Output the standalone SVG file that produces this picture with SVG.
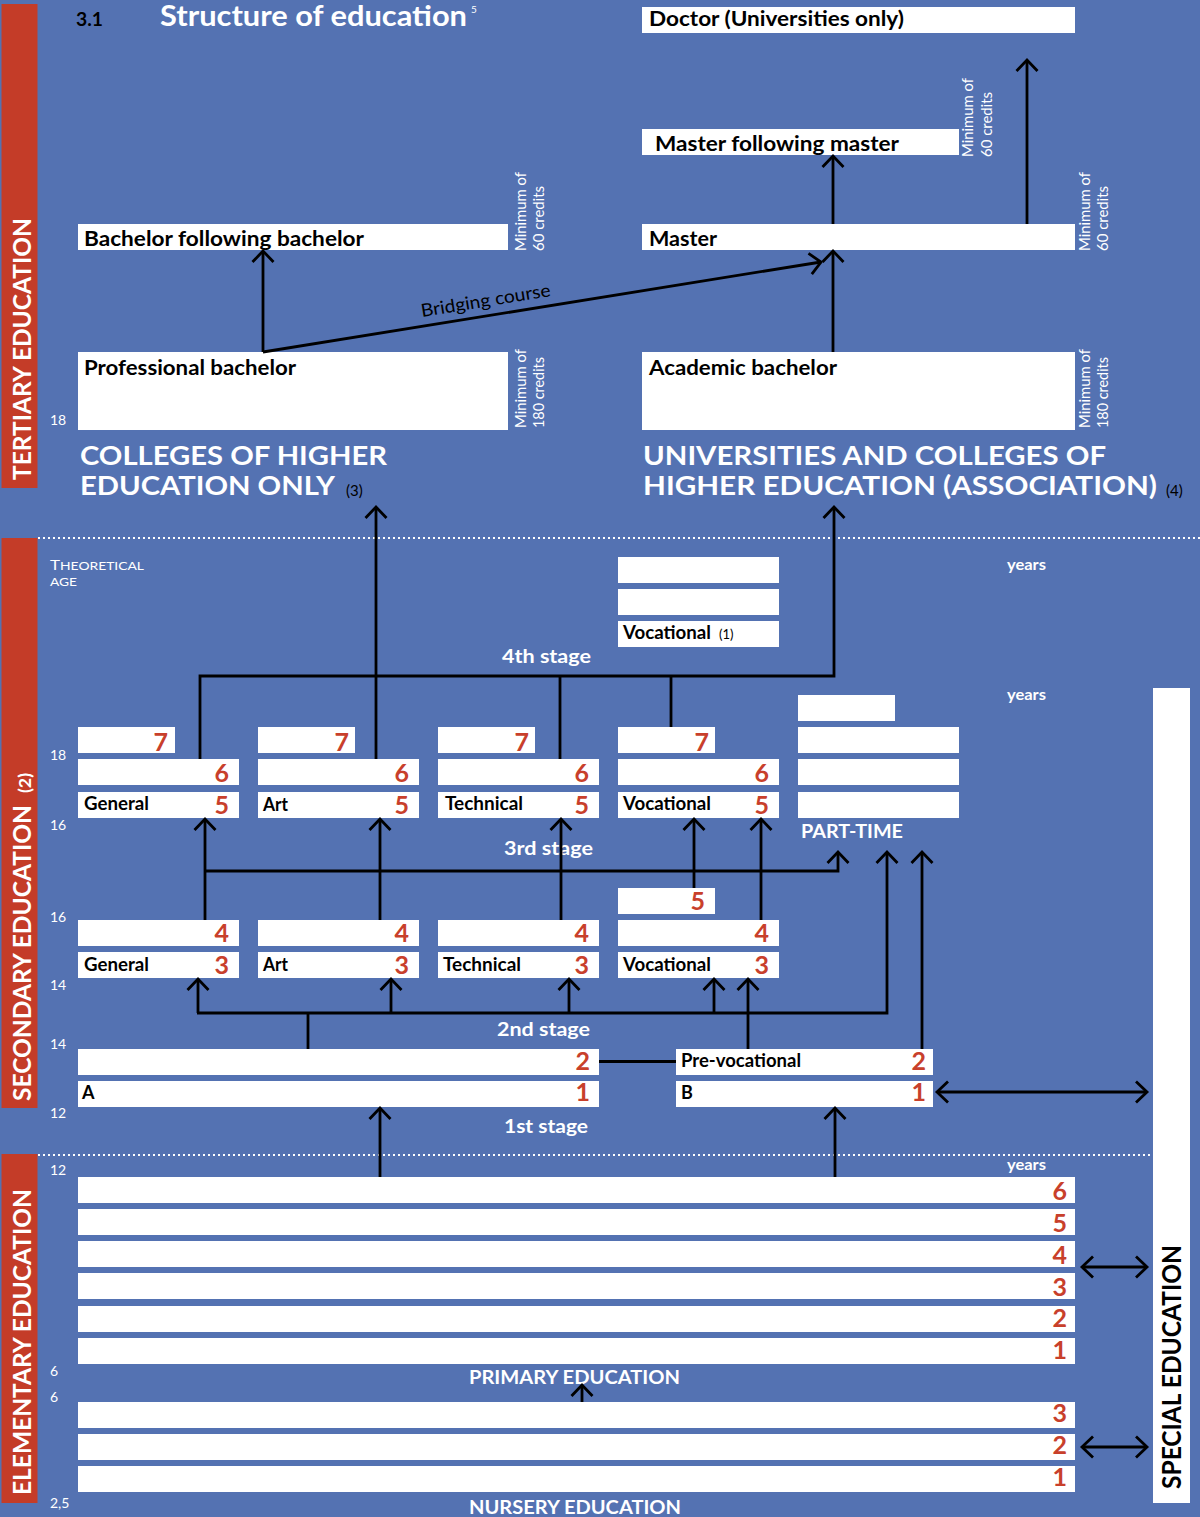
<svg xmlns="http://www.w3.org/2000/svg" width="1200" height="1517" viewBox="0 0 1200 1517">
<defs>
<style>
text{font-family:Lato,"Open Sans","Liberation Sans",sans-serif}
.box{fill:#fff}
.red{fill:#c43c28}
.lbl{font-size:18px;font-weight:700;fill:#000}
.big{font-size:21px;font-weight:700;fill:#000}
.num{font-size:25px;font-weight:700;fill:#c8402b;text-anchor:end}
.age{font-size:14px;fill:#fff}
.min{font-size:14.5px;fill:#fff}
.stage{font-size:19px;font-weight:700;fill:#fff}
.head{font-size:26px;font-weight:700;fill:#fff}
.side{font-size:25px;font-weight:700;fill:#fff}
.yrs{font-size:16px;font-weight:700;fill:#fff}
.ln{fill:none;stroke:#000;stroke-width:2.8;stroke-linejoin:miter}
.ar{marker-end:url(#ah)}
.da{marker-start:url(#ah);marker-end:url(#ah)}
.dot{fill:none;stroke:#fff;stroke-width:2;stroke-dasharray:2 3}
</style>
<marker id="ah" viewBox="-14 -14 28 28" refX="0" refY="0" markerWidth="28" markerHeight="28" markerUnits="userSpaceOnUse" orient="auto-start-reverse">
<path d="M-11,-10.5 L0,0 L-11,10.5" fill="none" stroke="#000" stroke-width="2.8"/>
</marker>
</defs>
<rect x="0" y="0" width="1200" height="1517" fill="#5472b2"/>

<g id="side-bars">
<rect class="red" x="1.5" y="4" width="36" height="484"/>
<rect class="red" x="1.5" y="538" width="36" height="570"/>
<rect class="red" x="1.5" y="1154" width="36" height="349"/>
<text class="side" transform="translate(31,480) rotate(-90)" textLength="262" lengthAdjust="spacingAndGlyphs">TERTIARY EDUCATION</text>
<text class="side" transform="translate(31,1101) rotate(-90)" textLength="296" lengthAdjust="spacingAndGlyphs">SECONDARY EDUCATION</text>
<text class="side" style="font-size:17px" transform="translate(31,793) rotate(-90)" textLength="20" lengthAdjust="spacingAndGlyphs">(2)</text>
<text class="side" transform="translate(31,1495) rotate(-90)" textLength="306" lengthAdjust="spacingAndGlyphs">ELEMENTARY EDUCATION</text>
</g>

<g id="dividers">
<line class="dot" x1="38" y1="538" x2="1200" y2="538"/>
<line class="dot" x1="38" y1="1155" x2="1152" y2="1155"/>
</g>

<g id="title">
<text x="76" y="26" style="font-size:19px;font-weight:700;fill:#000" textLength="27" lengthAdjust="spacingAndGlyphs">3.1</text>
<text x="160" y="26" style="font-size:29px;font-weight:700;fill:#fff" textLength="307" lengthAdjust="spacingAndGlyphs">Structure of education</text>
<text x="471" y="13" style="font-size:10px;fill:#fff">5</text>
</g>

<g id="doctor"><rect class="box" x="642" y="7" width="433" height="26"/><text class="big" x="649" y="26" textLength="255" lengthAdjust="spacingAndGlyphs">Doctor (Universities only)</text></g>
<g id="master-following-master"><rect class="box" x="642" y="129" width="317" height="26"/><text class="big" x="655" y="151" textLength="244" lengthAdjust="spacingAndGlyphs">Master following master</text>
<text class="min" transform="translate(973,157) rotate(-90)" textLength="79" lengthAdjust="spacingAndGlyphs">Minimum of</text>
<text class="min" transform="translate(992,157) rotate(-90)" textLength="65" lengthAdjust="spacingAndGlyphs">60 credits</text></g>
<g id="master"><rect class="box" x="642" y="224" width="433" height="26"/><text class="big" x="649" y="246" textLength="68" lengthAdjust="spacingAndGlyphs">Master</text>
<text class="min" transform="translate(1090,251) rotate(-90)" textLength="79" lengthAdjust="spacingAndGlyphs">Minimum of</text>
<text class="min" transform="translate(1108,251) rotate(-90)" textLength="65" lengthAdjust="spacingAndGlyphs">60 credits</text></g>
<g id="bachelor-following-bachelor"><rect class="box" x="78" y="224" width="430" height="26"/><text class="big" x="84" y="246" textLength="280" lengthAdjust="spacingAndGlyphs">Bachelor following bachelor</text>
<text class="min" transform="translate(526,251) rotate(-90)" textLength="79" lengthAdjust="spacingAndGlyphs">Minimum of</text>
<text class="min" transform="translate(544,251) rotate(-90)" textLength="65" lengthAdjust="spacingAndGlyphs">60 credits</text></g>
<g id="professional-bachelor"><rect class="box" x="78" y="352" width="430" height="78"/><text class="big" x="84" y="375" textLength="212" lengthAdjust="spacingAndGlyphs">Professional bachelor</text>
<text class="min" transform="translate(526,428) rotate(-90)" textLength="79" lengthAdjust="spacingAndGlyphs">Minimum of</text>
<text class="min" transform="translate(544,428) rotate(-90)" textLength="71" lengthAdjust="spacingAndGlyphs">180 credits</text></g>
<g id="academic-bachelor"><rect class="box" x="642" y="352" width="433" height="78"/><text class="big" x="649" y="375" textLength="188" lengthAdjust="spacingAndGlyphs">Academic bachelor</text>
<text class="min" transform="translate(1090,428) rotate(-90)" textLength="79" lengthAdjust="spacingAndGlyphs">Minimum of</text>
<text class="min" transform="translate(1108,428) rotate(-90)" textLength="71" lengthAdjust="spacingAndGlyphs">180 credits</text></g>

<g id="colleges-heading">
<text class="head" x="80" y="465" textLength="307" lengthAdjust="spacingAndGlyphs">COLLEGES OF HIGHER</text>
<text class="head" x="80" y="495" textLength="255" lengthAdjust="spacingAndGlyphs">EDUCATION ONLY</text>
<text x="346" y="496" style="font-size:15px;fill:#000">(3)</text>
</g>
<g id="universities-heading">
<text class="head" x="643" y="465" textLength="463" lengthAdjust="spacingAndGlyphs">UNIVERSITIES AND COLLEGES OF</text>
<text class="head" x="643" y="495" textLength="514" lengthAdjust="spacingAndGlyphs">HIGHER EDUCATION (ASSOCIATION)</text>
<text x="1166" y="496" style="font-size:15px;fill:#000">(4)</text>
</g>

<g id="ages">
<text class="age" x="50" y="425">18</text>
<text x="50" y="570" style="font-size:13.5px;fill:#fff" textLength="94" lengthAdjust="spacingAndGlyphs">T<tspan style="font-size:11px">HEORETICAL</tspan></text>
<text x="50" y="586" style="font-size:11px;fill:#fff" textLength="27" lengthAdjust="spacingAndGlyphs">AGE</text>
<text class="age" x="50" y="760">18</text>
<text class="age" x="50" y="830">16</text>
<text class="age" x="50" y="922">16</text>
<text class="age" x="50" y="990">14</text>
<text class="age" x="50" y="1049">14</text>
<text class="age" x="50" y="1118">12</text>
<text class="age" x="50" y="1175">12</text>
<text class="age" x="50" y="1376">6</text>
<text class="age" x="50" y="1402">6</text>
<text class="age" x="50" y="1508">2,5</text>
<text class="yrs" x="1007" y="570" textLength="39" lengthAdjust="spacingAndGlyphs">years</text>
<text class="yrs" x="1007" y="700" textLength="39" lengthAdjust="spacingAndGlyphs">years</text>
<text class="yrs" x="1007" y="1170" textLength="39" lengthAdjust="spacingAndGlyphs">years</text>
</g>

<g id="stage-labels">
<text class="stage" x="502" y="663" textLength="89" lengthAdjust="spacingAndGlyphs">4th stage</text>
<text class="stage" x="504" y="855" textLength="89" lengthAdjust="spacingAndGlyphs">3rd stage</text>
<text class="stage" x="497" y="1036" textLength="93" lengthAdjust="spacingAndGlyphs">2nd stage</text>
<text class="stage" x="504" y="1133" textLength="84" lengthAdjust="spacingAndGlyphs">1st stage</text>
<text class="stage" x="801" y="838" textLength="102" lengthAdjust="spacingAndGlyphs">PART-TIME</text>
<text class="stage" x="469" y="1384" textLength="211" lengthAdjust="spacingAndGlyphs">PRIMARY EDUCATION</text>
<text class="stage" x="469" y="1514" textLength="212" lengthAdjust="spacingAndGlyphs">NURSERY EDUCATION</text>
</g>

<g id="vocational-4th">
<rect class="box" x="618" y="557" width="161" height="26"/>
<rect class="box" x="618" y="589" width="161" height="26"/>
<rect class="box" x="618" y="621" width="161" height="26"/>
<text class="lbl" x="623" y="639" textLength="88" lengthAdjust="spacingAndGlyphs">Vocational</text>
<text x="719" y="639" style="font-size:13px;fill:#000">(1)</text>
</g>

<g id="general-3rd">
<rect class="box" x="78" y="727" width="97" height="26"/>
<rect class="box" x="78" y="759" width="161" height="26"/>
<rect class="box" x="78" y="792" width="161" height="26"/>
<text class="num" x="168" y="751">7</text><text class="num" x="229" y="782">6</text><text class="num" x="229" y="814">5</text>
<text class="lbl" x="84" y="810" textLength="65" lengthAdjust="spacingAndGlyphs">General</text>
</g>
<g id="art-3rd">
<rect class="box" x="258" y="727" width="97" height="26"/>
<rect class="box" x="258" y="759" width="161" height="26"/>
<rect class="box" x="258" y="792" width="161" height="26"/>
<text class="num" x="349" y="751">7</text><text class="num" x="409" y="782">6</text><text class="num" x="409" y="814">5</text>
<text class="lbl" x="263" y="811" textLength="25" lengthAdjust="spacingAndGlyphs">Art</text>
</g>
<g id="technical-3rd">
<rect class="box" x="438" y="727" width="97" height="26"/>
<rect class="box" x="438" y="759" width="161" height="26"/>
<rect class="box" x="438" y="792" width="161" height="26"/>
<text class="num" x="529" y="751">7</text><text class="num" x="589" y="782">6</text><text class="num" x="589" y="814">5</text>
<text class="lbl" x="445" y="810" textLength="78" lengthAdjust="spacingAndGlyphs">Technical</text>
</g>
<g id="vocational-3rd">
<rect class="box" x="618" y="727" width="97" height="26"/>
<rect class="box" x="618" y="759" width="161" height="26"/>
<rect class="box" x="618" y="792" width="161" height="26"/>
<text class="num" x="709" y="751">7</text><text class="num" x="769" y="782">6</text><text class="num" x="769" y="814">5</text>
<text class="lbl" x="623" y="810" textLength="88" lengthAdjust="spacingAndGlyphs">Vocational</text>
</g>
<g id="part-time">
<rect class="box" x="798" y="695" width="97" height="26"/>
<rect class="box" x="798" y="727" width="161" height="26"/>
<rect class="box" x="798" y="759" width="161" height="26"/>
<rect class="box" x="798" y="792" width="161" height="26"/>
</g>

<g id="general-2nd">
<rect class="box" x="78" y="920" width="161" height="26"/>
<rect class="box" x="78" y="952" width="161" height="26"/>
<text class="num" x="229" y="942">4</text><text class="num" x="229" y="974">3</text>
<text class="lbl" x="84" y="971" textLength="65" lengthAdjust="spacingAndGlyphs">General</text>
</g>
<g id="art-2nd">
<rect class="box" x="258" y="920" width="161" height="26"/>
<rect class="box" x="258" y="952" width="161" height="26"/>
<text class="num" x="409" y="942">4</text><text class="num" x="409" y="974">3</text>
<text class="lbl" x="263" y="971" textLength="25" lengthAdjust="spacingAndGlyphs">Art</text>
</g>
<g id="technical-2nd">
<rect class="box" x="438" y="920" width="161" height="26"/>
<rect class="box" x="438" y="952" width="161" height="26"/>
<text class="num" x="589" y="942">4</text><text class="num" x="589" y="974">3</text>
<text class="lbl" x="443" y="971" textLength="78" lengthAdjust="spacingAndGlyphs">Technical</text>
</g>
<g id="vocational-2nd">
<rect class="box" x="618" y="888" width="97" height="26"/>
<rect class="box" x="618" y="920" width="161" height="26"/>
<rect class="box" x="618" y="952" width="161" height="26"/>
<text class="num" x="705" y="910">5</text><text class="num" x="769" y="942">4</text><text class="num" x="769" y="974">3</text>
<text class="lbl" x="623" y="971" textLength="88" lengthAdjust="spacingAndGlyphs">Vocational</text>
</g>

<g id="first-stage-a">
<rect class="box" x="78" y="1049" width="521" height="26"/>
<rect class="box" x="78" y="1081" width="521" height="26"/>
<text class="num" x="590" y="1070">2</text><text class="num" x="590" y="1101">1</text>
<text class="lbl" x="82" y="1099">A</text>
</g>
<g id="first-stage-b">
<rect class="box" x="676" y="1049" width="257" height="26"/>
<rect class="box" x="676" y="1081" width="257" height="26"/>
<text class="num" x="926" y="1070">2</text><text class="num" x="926" y="1101">1</text>
<text class="lbl" x="681" y="1067" textLength="120" lengthAdjust="spacingAndGlyphs">Pre-vocational</text>
<text class="lbl" x="681" y="1099">B</text>
</g>

<g id="special-education">
<rect class="box" x="1153" y="688" width="37" height="815"/>
<text transform="translate(1181,1489) rotate(-90)" style="font-size:26px;font-weight:700;fill:#000" textLength="244" lengthAdjust="spacingAndGlyphs">SPECIAL EDUCATION</text>
</g>

<g id="primary-education">
<rect class="box" x="78" y="1177" width="997" height="26"/>
<rect class="box" x="78" y="1209" width="997" height="26"/>
<rect class="box" x="78" y="1241" width="997" height="26"/>
<rect class="box" x="78" y="1273" width="997" height="26"/>
<rect class="box" x="78" y="1306" width="997" height="26"/>
<rect class="box" x="78" y="1338" width="997" height="26"/>
<text class="num" x="1067" y="1200">6</text>
<text class="num" x="1067" y="1232">5</text>
<text class="num" x="1067" y="1264">4</text>
<text class="num" x="1067" y="1296">3</text>
<text class="num" x="1067" y="1327">2</text>
<text class="num" x="1067" y="1359">1</text>
</g>
<g id="nursery-education">
<rect class="box" x="78" y="1402" width="997" height="26"/>
<rect class="box" x="78" y="1434" width="997" height="26"/>
<rect class="box" x="78" y="1466" width="997" height="26"/>
<text class="num" x="1067" y="1422">3</text>
<text class="num" x="1067" y="1454">2</text>
<text class="num" x="1067" y="1486">1</text>
</g>

<g id="connectors">
<path class="ln ar" d="M263,352 V251"/>
<path class="ln ar" d="M263,352 L821,262"/>
<text transform="translate(422,317) rotate(-9.2)" style="font-size:18px;fill:#000" textLength="131" lengthAdjust="spacingAndGlyphs">Bridging course</text>
<path class="ln ar" d="M833,352 V251"/>
<path class="ln ar" d="M833,224 V156"/>
<path class="ln ar" d="M1027,224 V60"/>
<path class="ln ar" d="M376,759 V507"/>
<path class="ln ar" d="M200,759 V676 H834 V507"/>
<path class="ln" d="M560,676 V759"/>
<path class="ln" d="M671,676 V727"/>
<path class="ln ar" d="M205,920 V819"/>
<path class="ln ar" d="M380,920 V819"/>
<path class="ln ar" d="M561,920 V819"/>
<path class="ln ar" d="M694,888 V819"/>
<path class="ln ar" d="M761,920 V819"/>
<path class="ln ar" d="M205,871 H838 V852"/>
<path class="ln ar" d="M198,1013 V979"/>
<path class="ln ar" d="M391,1013 V979"/>
<path class="ln ar" d="M569,1013 V979"/>
<path class="ln ar" d="M714,1013 V979"/>
<path class="ln ar" d="M197,1013 H887 V852"/>
<path class="ln" d="M308,1013 V1049"/>
<path class="ln ar" d="M748,1049 V979"/>
<path class="ln ar" d="M922,1049 V852"/>
<path class="ln" d="M599,1061.5 H676"/>
<path class="ln da" d="M937,1092 H1147"/>
<path class="ln ar" d="M380,1177 V1108"/>
<path class="ln ar" d="M835,1177 V1108"/>
<path class="ln ar" d="M582,1402 V1385"/>
<path class="ln da" d="M1082,1267 H1147"/>
<path class="ln da" d="M1082,1447 H1147"/>
</g>
</svg>
